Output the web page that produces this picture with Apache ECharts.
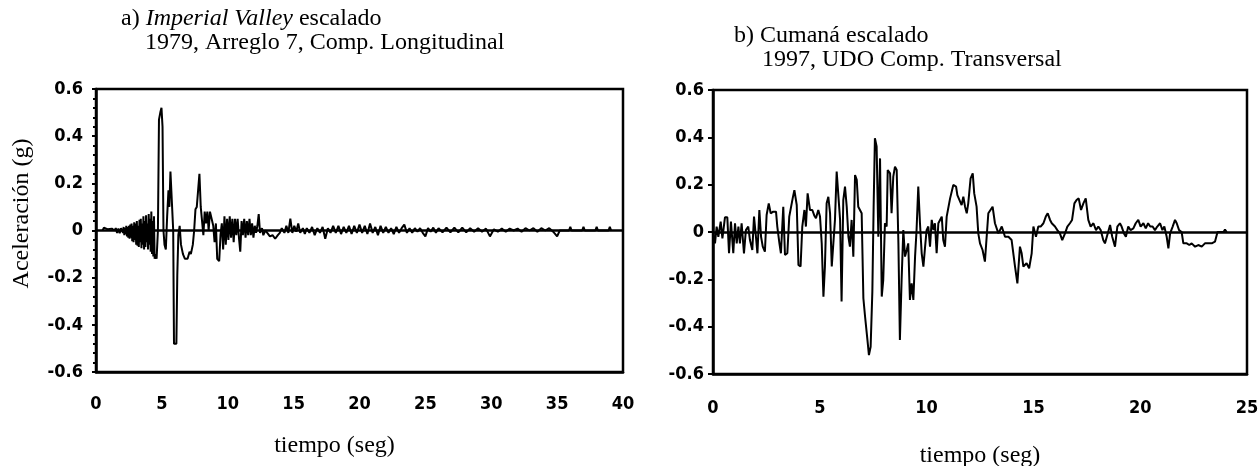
<!DOCTYPE html>
<html>
<head>
<meta charset="utf-8">
<script src="https://cdn.jsdelivr.net/npm/echarts@6/dist/echarts.min.js"></script>
<style>html,body{margin:0;padding:0;background:#fff}#c{width:1259px;height:466px}</style>
</head>
<body>
<div id="c"></div>
<script>
// ---- Data: [time (s), acceleration (g)] ----
const imperialRecord = [
[0.5,0],[0.6,0.012],[0.9,0.005],[1.2,0.008],[1.4,0],[1.5,0.01],[1.6,-0.01],[1.7,0.008],[1.8,-0.012],[1.9,0.01],
[2.0,0.012],[2.05,-0.01],[2.1,0.015],[2.15,-0.02],[2.2,0.01],[2.25,-0.015],[2.3,0.02],[2.35,-0.025],[2.4,0.015],[2.45,-0.03],
[2.5,0.02],[2.55,-0.035],[2.6,0.025],[2.65,-0.03],[2.7,0.03],[2.75,-0.045],[2.8,0.02],[2.85,-0.05],[2.9,0.035],[2.95,-0.04],
[3.0,0.03],[3.05,-0.06],[3.1,0.04],[3.15,-0.065],[3.2,0.02],[3.25,-0.07],[3.3,0.045],[3.35,-0.05],[3.4,0.05],[3.45,-0.075],
[3.5,0.03],[3.55,-0.06],[3.6,0.06],[3.65,-0.08],[3.7,0.04],[3.75,-0.07],[3.8,0.065],[3.85,-0.05],[3.9,0.03],[3.95,-0.08],
[4.0,0.07],[4.05,-0.06],[4.1,0.05],[4.15,-0.09],[4.2,0.08],[4.25,-0.1],[4.3,0.04],[4.35,-0.11],[4.4,0.06],[4.45,-0.12],
[4.5,-0.1],[4.6,-0.12],[4.7,0],[4.78,0.47],[4.88,0.5],[4.97,0.52],[5.05,0.44],[5.12,0],[5.2,-0.06],[5.3,-0.08],
[5.4,0.06],[5.5,0.17],[5.57,0.1],[5.65,0.25],[5.78,0.25],[5.86,0],[5.92,-0.48],[6.1,-0.48],[6.17,-0.19],[6.25,-0.02],
[6.35,0.02],[6.45,-0.06],[6.6,-0.1],[6.75,-0.12],[6.95,-0.12],[7.1,-0.09],[7.2,-0.1],[7.35,-0.06],[7.45,0],[7.55,0.09],
[7.65,0.1],[7.75,0.17],[7.85,0.24],[7.95,0.1],[8.05,0.1],[8.15,-0.02],[8.25,0.08],[8.35,0.03],[8.45,0.08],[8.55,0],
[8.65,0.08],[8.8,0.08],[8.9,0.02],[9.0,-0.05],[9.1,0.03],[9.2,-0.12],[9.35,-0.13],[9.45,-0.02],[9.55,0.03],[9.65,-0.08],
[9.75,0.06],[9.85,-0.06],[9.95,0.05],[10.05,-0.04],[10.15,0.06],[10.25,-0.03],[10.35,0.05],[10.45,-0.05],[10.55,0.05],[10.65,-0.02],
[10.75,0.05],[10.85,-0.03],[10.95,-0.09],[11.05,0.04],[11.15,-0.02],[11.25,0.05],[11.35,-0.03],[11.45,0.04],[11.55,-0.02],[11.65,0.05],
[11.75,-0.02],[11.85,0.03],[11.95,-0.03],[12.05,0.02],[12.15,-0.01],[12.25,0.02],[12.35,0.07],[12.45,-0.01],[12.6,0.01],[12.7,-0.02],
[12.85,0],[13.0,-0.01],[13.2,-0.025],[13.4,-0.02],[13.6,-0.035],[13.8,-0.02],[13.95,-0.01],[14.1,0.01],[14.3,-0.01],[14.45,0.02],
[14.6,-0.01],[14.75,0.05],[14.9,-0.01],[15.05,0.02],[15.2,-0.005],[15.35,0.03],[15.5,-0.01],[15.7,0.01],[15.85,-0.015],[16.0,0.01],
[16.2,-0.01],[16.4,0.015],[16.6,-0.02],[16.8,0.01],[17.0,-0.01],[17.2,0.015],[17.4,-0.035],[17.6,0.01],[17.8,-0.01],[18.0,0.02],
[18.2,-0.01],[18.4,0.02],[18.6,-0.015],[18.8,0.015],[19.0,-0.01],[19.2,0.02],[19.4,-0.015],[19.6,0.02],[19.8,-0.01],[20.0,0.025],
[20.2,-0.01],[20.4,0.02],[20.6,-0.015],[20.8,0.03],[21.0,-0.01],[21.2,0.015],[21.4,-0.02],[21.6,0.02],[21.8,-0.01],[22.0,0.015],
[22.2,-0.01],[22.4,0.01],[22.6,-0.015],[22.8,0.015],[23.0,-0.01],[23.2,0.01],[23.4,0.025],[23.6,-0.01],[23.8,0.01],[24.0,-0.01],
[24.2,0.01],[24.4,-0.005],[24.6,0.01],[24.8,-0.01],[25.0,-0.025],[25.2,0.01],[25.4,-0.005],[25.6,0.012],[25.8,-0.01],[26.0,0.01],
[26.3,-0.008],[26.6,0.012],[26.9,-0.008],[27.2,0.012],[27.5,-0.008],[27.8,0.012],[28.1,-0.008],[28.4,0.01],[28.7,-0.005],[29.0,0.01],
[29.3,-0.005],[29.6,0.008],[29.9,-0.025],[30.2,0.005],[30.5,-0.005],[30.8,0.008],[31.1,-0.005],[31.4,0.008],[31.7,0],[32.0,0.008],
[32.3,-0.005],[32.6,0.01],[32.9,0],[33.2,0.01],[33.5,-0.005],[33.8,0.01],[34.1,0],[34.4,0.01],[34.7,-0.005],[35.0,-0.025],
[35.2,0],[35.9,0],[36.0,0.015],[36.1,0],[36.9,0],[37.0,0.015],[37.1,0],[37.9,0],[38.0,0.015],[38.1,0],
[38.9,0],[39.0,0.015],[39.1,0]
];

const cumanaRecord = [
[0,0],[0.094,-0.048],[0.17,0.023],[0.25,-0.02],[0.36,0.044],[0.44,-0.027],[0.56,0.062],[0.67,0.062],[0.75,-0.09],[0.84,0.044],
[0.95,-0.09],[1.03,0.037],[1.11,-0.048],[1.19,0.023],[1.26,-0.048],[1.34,0.037],[1.45,-0.09],[1.54,0.008],[1.65,0.023],[1.73,-0.034],
[1.84,-0.076],[1.92,0.065],[2.01,-0.02],[2.08,-0.09],[2.17,0.093],[2.25,-0.02],[2.33,-0.062],[2.43,-0.083],[2.51,0.072],[2.61,0.121],
[2.70,0.079],[2.82,0.086],[2.95,0.086],[3.01,0.023],[3.11,-0.048],[3.18,-0.09],[3.29,0.107],[3.37,-0.097],[3.48,-0.09],[3.57,0.065],
[3.65,0.065],[3.73,0.142],[3.81,0.177],[3.92,0.114],[4.0,-0.139],[4.10,-0.146],[4.18,0.023],[4.28,0.093],[4.35,0.023],[4.43,0.163],
[4.54,0.093],[4.65,0.093],[4.74,0.07],[4.82,0.058],[4.93,0.093],[5.01,0.065],[5.09,-0.048],[5.17,-0.273],[5.24,-0.146],[5.32,0.121],
[5.40,0.149],[5.48,0.079],[5.56,-0.146],[5.63,-0.146],[5.71,0.051],[5.79,0.255],[5.87,0.255],[5.95,0.051],[6.02,-0.294],[6.10,0.135],
[6.18,0.192],[6.26,0.107],[6.34,-0.02],[6.41,-0.062],[6.49,0.051],[6.57,-0.104],[6.65,0.241],[6.73,0.22],[6.80,0.107],[6.88,0.093],
[6.96,0.079],[7.04,-0.28],[7.12,-0.358],[7.23,-0.456],[7.30,-0.52],[7.38,-0.485],[7.46,-0.252],[7.52,0.107],[7.58,0.396],[7.66,0.361],
[7.74,-0.02],[7.82,0.311],[7.90,-0.273],[7.97,-0.203],[8.05,0.037],[8.13,0.023],[8.18,0.262],[8.29,0.248],[8.36,0.079],[8.44,0.234],
[8.52,0.276],[8.60,0.262],[8.68,-0.048],[8.75,-0.456],[8.83,-0.203],[8.91,0.008],[8.99,-0.104],[9.07,-0.076],[9.14,-0.048],[9.22,-0.287],
[9.30,-0.217],[9.38,-0.287],[9.46,-0.104],[9.53,0.008],[9.61,0.192],[9.69,0.037],[9.77,-0.09],[9.85,-0.146],[9.93,-0.062],[10.0,0.008],
[10.08,0.023],[10.16,-0.062],[10.24,0.051],[10.32,0.008],[10.39,0.037],[10.47,-0.09],[10.55,0.037],[10.63,0.051],[10.71,0.065],[10.78,-0.034],
[10.86,-0.062],[10.94,0.065],[11.02,0.065],[11.10,0.142],[11.17,0.142],[11.25,0.199],[11.38,0.192],[11.44,0.156],[11.53,0.163],[11.64,0.114],
[11.72,0.149],[11.80,0.107],[11.88,0.079],[11.95,0.121],[12.06,0.227],[12.16,0.248],[12.23,0.163],[12.34,0.107],[12.42,-0.006],[12.5,-0.048],
[12.62,-0.076],[12.73,-0.125],[12.81,-0.125],[12.89,0.079],[13.09,0.107],[13.2,0.037],[13.36,-0.006],[13.52,0.023],[13.67,-0.02],[13.83,-0.02],
[13.98,-0.034],[14.14,-0.146],[14.25,-0.217],[14.37,-0.062],[14.45,-0.09],[14.53,-0.146],[14.68,-0.132],[14.8,-0.153],[14.92,-0.09],[15.0,0.023],
[15.12,-0.02],[15.23,0.023],[15.34,0.023],[15.47,0.037],[15.58,0.065],[15.67,0.079],[15.78,0.051],[15.86,0.037],[16.01,0.023],[16.12,0.008],
[16.24,-0.006],[16.35,-0.034],[16.48,-0.006],[16.59,0.023],[16.71,0.037],[16.81,0.051],[16.92,0.121],[17.02,0.135],[17.12,0.142],[17.23,0.093],
[17.34,0.121],[17.45,0.142],[17.57,0.051],[17.68,0.023],[17.81,0.037],[17.93,0.008],[18.04,0.023],[18.15,0.008],[18.27,-0.034],[18.35,-0.048],
[18.48,-0.006],[18.59,0.03],[18.69,-0.02],[18.82,-0.062],[18.93,0.023],[19.05,0.037],[19.13,0.023],[19.24,-0.006],[19.33,-0.02],[19.44,0.023],
[19.55,0.008],[19.68,0.015],[19.79,0.037],[19.91,0.051],[20.02,0.023],[20.15,0.037],[20.26,0.015],[20.37,0.037],[20.47,0.023],[20.58,0.023],
[20.69,0.008],[20.80,0.023],[20.93,0.037],[21.04,0.008],[21.13,0.023],[21.24,-0.02],[21.32,-0.069],[21.40,-0.006],[21.52,0.023],[21.63,0.051],
[21.71,0.037],[21.82,0.008],[21.94,0],[22.02,-0.048],[22.18,-0.048],[22.30,-0.055],[22.41,-0.048],[22.57,-0.062],[22.72,-0.055],[22.88,-0.062],
[23.03,-0.048],[23.19,-0.048],[23.35,-0.048],[23.50,-0.041],[23.58,-0.034],[23.62,0],[23.9,0],[23.97,0.01],[24.05,0]
];

const imperialTicks = [0, 40, 5];   // x min, max, interval (s)
const cumanaTicks = [0, 25, 5];
const accelTicks = [-0.6, 0.6, 0.2]; // y min, max, interval (g)

const titleLeft1 = ['a) ', 'Imperial Valley', ' escalado'];
const titleLeft2 = '1979, Arreglo 7, Comp. Longitudinal';
const titleRight1 = 'b) Cumaná escalado';
const titleRight2 = '1997, UDO Comp. Transversal';
const xName = 'tiempo (seg)';
const yName = 'Aceleración (g)';

// ---- Chart ----
const SERIF = '"Liberation Serif", "Times New Roman", serif';
const TICKF = '"DejaVu Sans Condensed", "Liberation Sans Narrow", sans-serif';
const tickLabel = {color: '#000', fontFamily: TICKF, fontWeight: 'bold', fontSize: 18};
const serifText = {color: '#000', fontFamily: SERIF, fontSize: 24, fontWeight: 'normal'};

const chart = echarts.init(document.getElementById('c'), null, {renderer: 'canvas'});
const zeroLine = {
  silent: true, symbol: ['none', 'none'], label: {show: false},
  lineStyle: {color: '#000', width: 2.5, type: 'solid'},
  data: [{yAxis: 0}]
};
const gridBase = {show: true, borderColor: '#000', borderWidth: 2.5, backgroundColor: 'transparent',
                  containLabel: false, outerBoundsMode: 'none'};
chart.setOption({
  animation: false,
  backgroundColor: '#fff',
  title: [
    {text: '{n|' + titleLeft1[0] + '}{i|' + titleLeft1[1] + '}{n|' + titleLeft1[2] + '}', left: 121, top: 7, padding: 0,
     textStyle: {rich: {n: Object.assign({}, serifText), i: Object.assign({}, serifText, {fontStyle: 'italic'})}}},
    {text: titleLeft2, left: 145, top: 31, padding: 0, textStyle: serifText},
    {text: titleRight1, left: 734, top: 24, padding: 0, textStyle: serifText},
    {text: titleRight2, left: 762, top: 48, padding: 0, textStyle: serifText}
  ],
  grid: [
    Object.assign({left: 96, top: 89, width: 527, height: 283}, gridBase),
    Object.assign({left: 713, top: 90, width: 534, height: 284}, gridBase)
  ],
  xAxis: [
    {type: 'value', gridIndex: 0, min: imperialTicks[0], max: imperialTicks[1], interval: imperialTicks[2],
     axisLine: {onZero: false, lineStyle: {color: '#000', width: 2.5}}, axisTick: {show: false}, splitLine: {show: false},
     axisLabel: Object.assign({margin: 23}, tickLabel),
     name: xName, nameLocation: 'middle', nameGap: 62, nameTextStyle: Object.assign({padding: [0, 50, 0, 0]}, serifText)},
    {type: 'value', gridIndex: 1, min: cumanaTicks[0], max: cumanaTicks[1], interval: cumanaTicks[2],
     axisLine: {onZero: false, lineStyle: {color: '#000', width: 2.5}}, axisTick: {show: false}, splitLine: {show: false},
     axisLabel: Object.assign({margin: 25}, tickLabel),
     name: xName, nameLocation: 'middle', nameGap: 70, nameTextStyle: serifText}
  ],
  yAxis: [
    {type: 'value', gridIndex: 0, min: accelTicks[0], max: accelTicks[1], interval: accelTicks[2],
     axisLine: {lineStyle: {color: '#000', width: 2.5}},
     axisTick: {show: true, length: 4, lineStyle: {color: '#000', width: 2}},
     minorTick: {show: true, splitNumber: 5, length: 3, lineStyle: {color: '#000', width: 2}},
     splitLine: {show: false},
     axisLabel: Object.assign({margin: 13}, tickLabel),
     name: yName, nameLocation: 'middle', nameRotate: 90, nameGap: 62,
     nameTextStyle: Object.assign({padding: [0, 0, 0, 34]}, serifText)},
    {type: 'value', gridIndex: 1, min: accelTicks[0], max: accelTicks[1], interval: accelTicks[2],
     axisLine: {lineStyle: {color: '#000', width: 2.5}},
     axisTick: {show: true, length: 5, lineStyle: {color: '#000', width: 2}},
     splitLine: {show: false},
     axisLabel: Object.assign({margin: 9}, tickLabel)}
  ],
  series: [
    {type: 'line', xAxisIndex: 0, yAxisIndex: 0, data: imperialRecord, showSymbol: false,
     lineStyle: {color: '#000', width: 2}, markLine: zeroLine, z: 3},
    {type: 'line', xAxisIndex: 1, yAxisIndex: 1, data: cumanaRecord, showSymbol: false,
     lineStyle: {color: '#000', width: 2}, markLine: zeroLine, z: 3}
  ]
});
</script>
</body>
</html>
